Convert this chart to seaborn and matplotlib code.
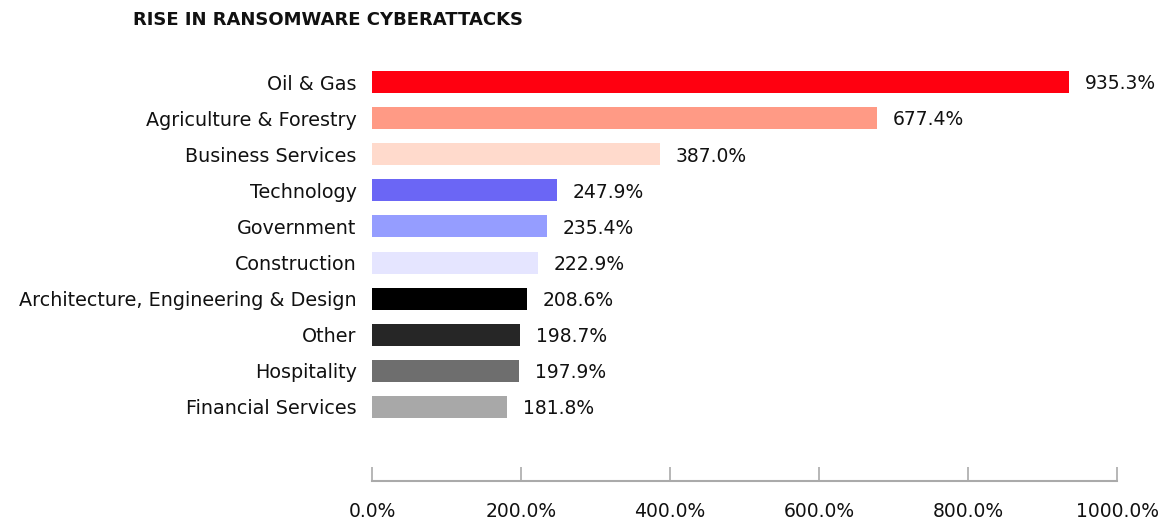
import pandas as pd
import seaborn as sns
import matplotlib.pyplot as plt

# data
industries = ['Oil & Gas', 'Agriculture & Forestry', 'Business Services', 'Technology',
              'Government', 'Construction', 'Architecture, Engineering & Design',
              'Other', 'Hospitality', 'Financial Services']
rise_pct = [935.3, 677.4, 387.0, 247.9, 235.4, 222.9, 208.6, 198.7, 197.9, 181.8]
bar_colors = ['#ff0010', '#ff9a85', '#ffdacc', '#6b66f5', '#959dff',
              '#e5e5ff', '#000000', '#262626', '#6e6e6e', '#a8a8a8']
x_ticks = [0, 200, 400, 600, 800, 1000]

df = pd.DataFrame({'industry': industries, 'rise': rise_pct})

sns.set_style('white')
plt.rcParams['font.family'] = ['DejaVu Sans']

fig = plt.figure(figsize=(11.71, 5.28), dpi=100)
ax = fig.add_axes([0.3177, 0.0890, 0.6362, 0.7898])

sns.barplot(data=df, x='rise', y='industry', hue='industry',
            palette=dict(zip(industries, bar_colors)), legend=False,
            orient='h', width=0.61, saturation=1, linewidth=0, ax=ax)

for i, v in enumerate(rise_pct):
    ax.text(v + 21, i + 0.05, f'{v:.1f}%', va='center', ha='left',
            fontsize=13.5, color='#111111')

ax.set_xlim(0, 1000)
ax.set_ylim(11.05, -0.5)
ax.set_xticks(x_ticks)
ax.set_xticklabels([f'{t:.1f}%' for t in x_ticks], fontsize=13.5, color='#111111')
ax.set_xlabel('')
ax.set_ylabel('')

for s in ['top', 'right', 'left']:
    ax.spines[s].set_visible(False)
ax.spines['bottom'].set_color('#aaaaaa')
ax.spines['bottom'].set_linewidth(1.5)

ax.tick_params(axis='x', bottom=True, direction='in', length=10, width=1.2,
               color='#aaaaaa', pad=15)
ax.tick_params(axis='y', left=False, length=0, pad=11)
for lbl in ax.get_yticklabels():
    lbl.set_fontsize(13.8)
    lbl.set_color('#111111')

fig.text(133 / 1171, 1 - 20 / 528, 'RISE IN RANSOMWARE CYBERATTACKS',
         fontsize=13, fontweight='bold', va='center', ha='left', color='#111111')

fig.savefig('out.png', dpi=100)
